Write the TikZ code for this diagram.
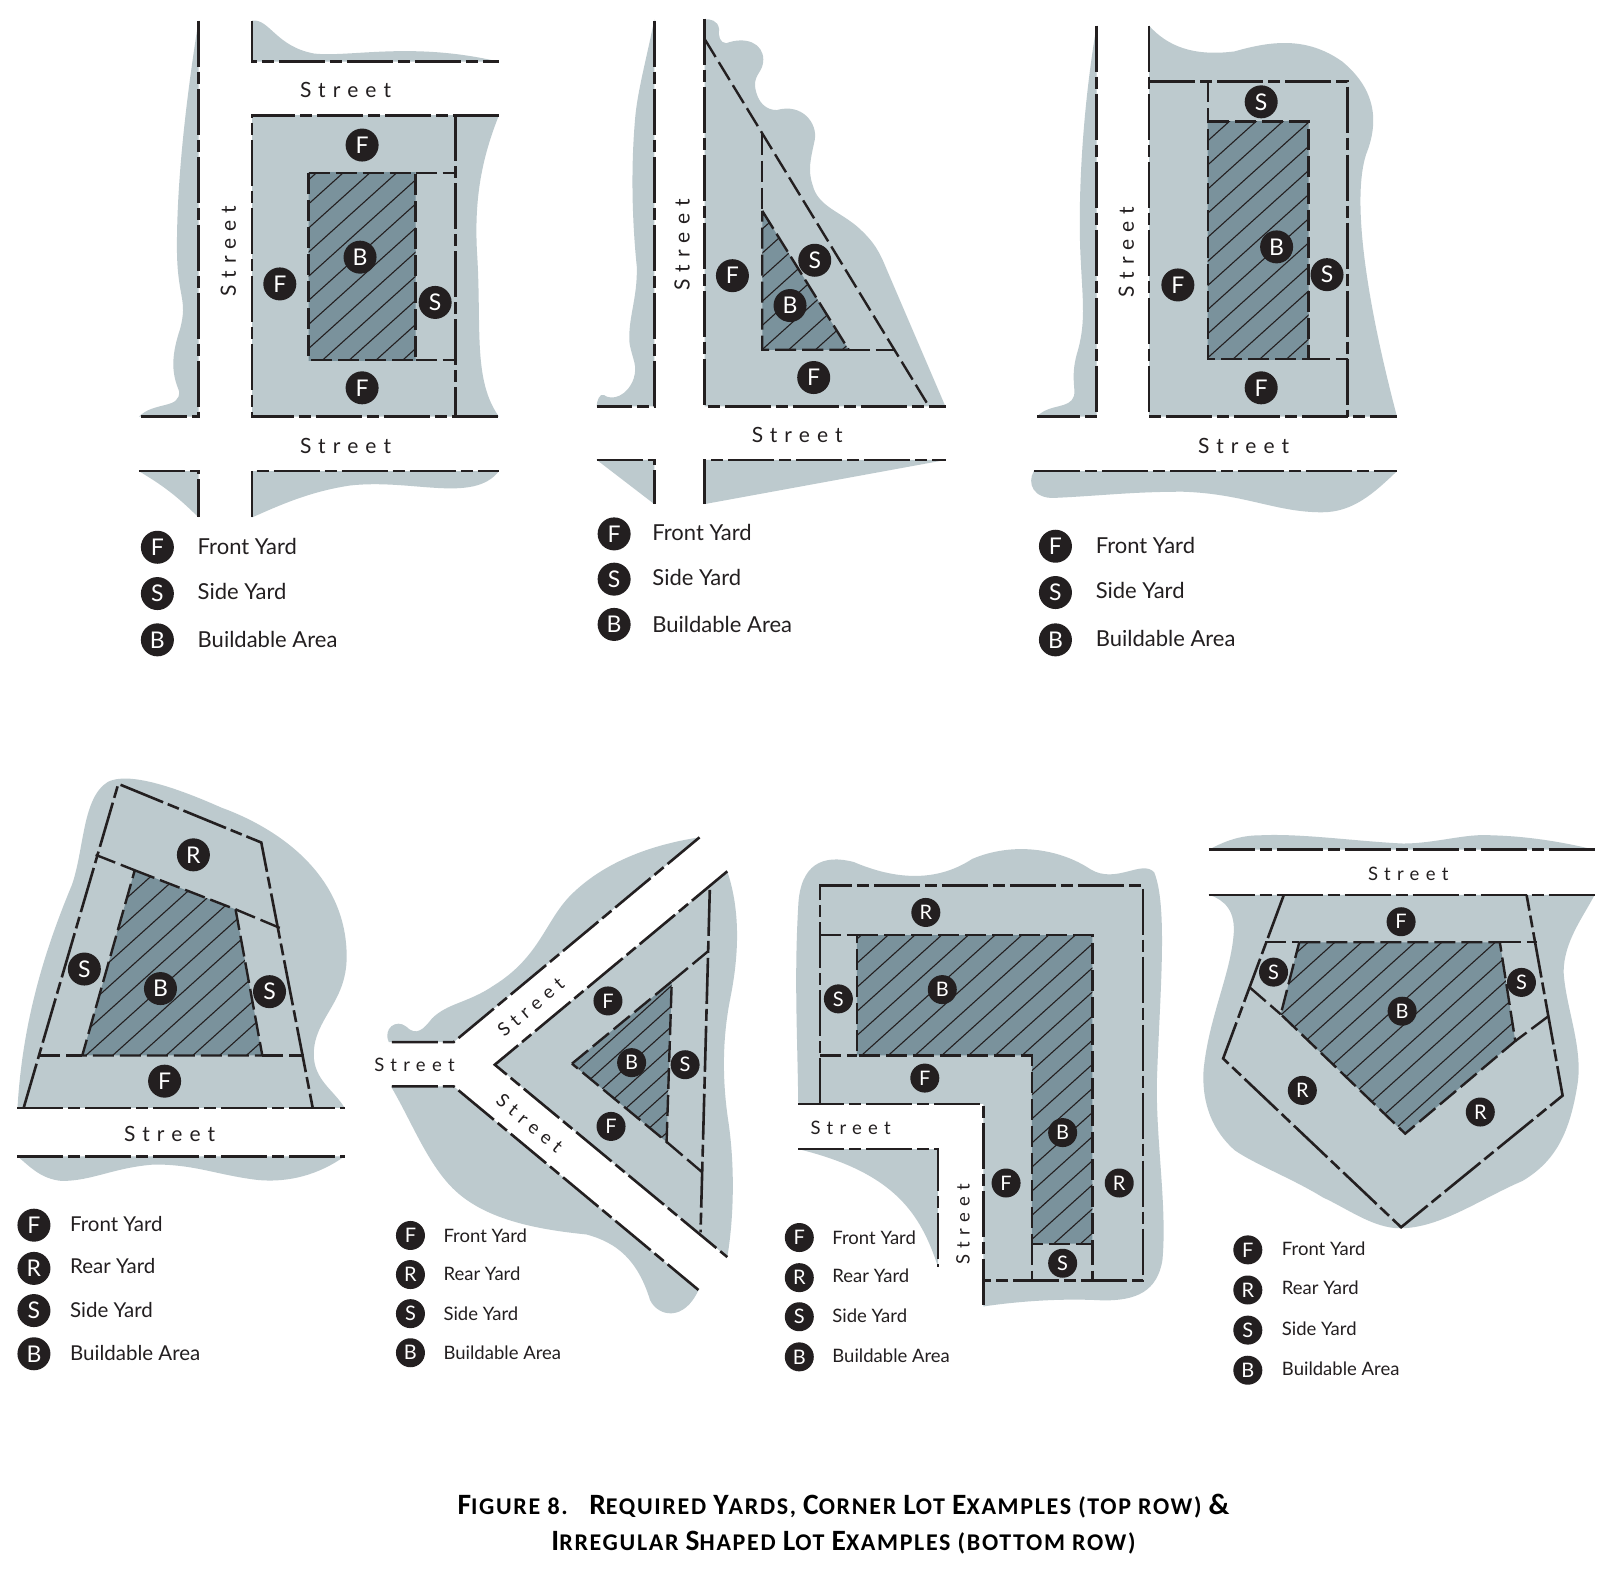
\documentclass[tikz,border=0pt]{standalone}
\usepackage{fontspec}
\setmainfont{Lato}
\newfontfamily\streetfont[LetterSpace=34]{Lato}
\newfontfamily\capfont[LetterSpace=7]{Carlito}
\definecolor{yardgray}{HTML}{BDCACE}
\definecolor{buildgray}{HTML}{7A929C}
\definecolor{inkblack}{HTML}{231F20}
\tikzset{
  yard/.style={fill=yardgray},
  lotline/.style={draw=inkblack, line width=2.6pt, line join=miter, dash pattern=on 46pt off 5pt on 12pt off 5pt},
  setback/.style={draw=inkblack, line width=2.4pt, dash pattern=on 21pt off 6pt},
  badge/.style={circle, fill=inkblack, text=white, minimum size=33pt, inner sep=0pt, font=\fontsize{23}{23}\selectfont},
  smallbadge/.style={badge, minimum size=29pt, font=\fontsize{20}{20}\selectfont},
  legendtext/.style={anchor=west, text=inkblack, inner sep=0pt, font=\fontsize{22}{22}\selectfont},
  smalllegend/.style={legendtext, font=\fontsize{18.5}{19}\selectfont},
  midlegend/.style={legendtext, font=\fontsize{20.5}{21}\selectfont},
  streetlabel/.style={text=inkblack, inner sep=0pt, font=\streetfont\fontsize{21}{21}\selectfont},
  smallstreet/.style={streetlabel, font=\streetfont\fontsize{18.5}{19}\selectfont},
  captionline/.style={inner sep=0pt, font=\capfont\bfseries\fontsize{24}{24}\selectfont},
}
\newcommand{\bigc}[1]{{\fontsize{29.5}{29}\selectfont #1}}
\newcommand{\hatcharea}[2]{%
  \begin{scope}
    \clip #2 -- cycle;
    \fill[buildgray] (0,0) rectangle (1568,1532);
    \foreach \k in {0,...,140} {
      \pgfmathsetmacro{\c}{\k*#1}
      \draw[inkblack, line width=1.1pt] (\c,0) -- (\c-1700,1532);
    }
  \end{scope}
  \path[setback] #2 -- cycle;
}
\begin{document}
\begin{tikzpicture}[x=1.0287pt, y=-1.0287pt]
\useasboundingbox (0,0) rectangle (1568,1532);
\fill[white] (0,0) rectangle (1568,1532);

% top row, left
\fill[yard] (193,20) .. controls (182,90) and (172,170) .. (172,240) .. controls (172,290) and (183,290) .. (175,320) .. controls (165,350) and (168,365) .. (174,380) .. controls (176,398) and (150,390) .. (135,405) -- (193,405) -- cycle;
\fill[yard] (245,20) .. controls (262,18) and (268,45) .. (305,52) .. controls (340,56) and (400,40) .. (485,60) -- (245,60) -- cycle;
\fill[yard] (245,112) -- (485,112) .. controls (470,150) and (460,190) .. (464,250) .. controls (468,320) and (460,370) .. (485,405) -- (245,405) -- cycle;
\fill[yard] (135,458) -- (193,458) -- (193,503) .. controls (170,480) and (155,470) .. (135,458) -- cycle;
\fill[yard] (245,503) -- (245,458) -- (485,458) .. controls (460,490) and (400,465) .. (340,472) .. controls (300,478) and (270,492) .. (245,503) -- cycle;
\hatcharea{26}{(300,168) -- (404,168) -- (404,350) -- (300,350)}
\path[setback] (404,168) -- (443,168);
\path[setback] (404,350) -- (443,350);
\path[lotline] (193,20) -- (193,405) -- (135,405);
\path[lotline] (245,20) -- (245,60) -- (485,60);
\path[lotline] (485,112) -- (245,112) -- (245,405) -- (485,405);
\path[lotline] (443,112) -- (443,405);
\path[lotline] (135,458) -- (193,458) -- (193,503);
\path[lotline] (245,503) -- (245,458) -- (485,458);
\node[streetlabel] (streetaa) at (336,87) {Street};
\node[streetlabel, rotate=90] (streetab) at (222,244) {Street};
\node[streetlabel] (streetac) at (336,434) {Street};
\node[badge] (faa) at (352,141) {F};
\node[badge] (fab) at (272,276) {F};
\node[badge] (fac) at (352,377) {F};
\node[badge] (baa) at (350,250) {B};
\node[badge] (saa) at (423,294) {S};
\node[badge] (legfa) at (153,532) {F};
\node[badge] (legsa) at (153,577) {S};
\node[badge] (legba) at (153,622) {B};
\node[legendtext] (txtfa) at (192,531) {Front Yard};
\node[legendtext] (txtsa) at (192,575) {Side Yard};
\node[legendtext] (txtba) at (192,622) {Buildable Area};

% top row, middle
\fill[yard] (636,19) .. controls (628,60) and (619,90) .. (617,120) .. controls (613,170) and (615,220) .. (619,259) .. controls (620,290) and (610,310) .. (612,334) .. controls (615,350) and (620,355) .. (616,368) .. controls (610,385) and (595,390) .. (587,384) .. controls (583,382) and (580,390) .. (580,395) -- (636,395) -- cycle;
\fill[yard] (685,19) .. controls (690,18) and (698,20) .. (699,28) .. controls (698,35) and (700,42) .. (706,42) .. controls (725,35) and (742,42) .. (742,58) .. controls (742,70) and (733,72) .. (734,84) .. controls (736,100) and (745,107) .. (755,107) .. controls (780,100) and (795,120) .. (792,136) .. controls (788,155) and (785,165) .. (790,180) .. controls (795,200) and (815,205) .. (833,220) .. controls (850,235) and (855,245) .. (862,262) -- (919,395) -- (685,395) -- cycle;
\fill[yard] (580,447) -- (636,447) -- (636,490) -- cycle;
\fill[yard] (685,490) -- (685,447) -- (920,447) -- cycle;
\hatcharea{26}{(741,205) -- (825,340) -- (741,340)}
\path[setback] (741,130) -- (741,205);
\path[setback] (825,340) -- (870,340);
\path[setback] (685,38) -- (903,395);
\path[lotline] (636,20) -- (636,395) -- (580,395);
\path[lotline] (685,18) -- (685,395) -- (920,395);
\path[lotline] (580,447) -- (636,447) -- (636,490);
\path[lotline] (685,490) -- (685,447) -- (920,447);
\node[streetlabel] (streetba) at (775,423) {Street};
\node[streetlabel, rotate=90] (streetbb) at (663,238) {Street};
\node[badge] (fba) at (712,268) {F};
\node[badge] (fbb) at (791,367) {F};
\node[badge] (sba) at (792,253) {S};
\node[badge] (bba) at (768,297) {B};
\node[badge] (legfb) at (597,519) {F};
\node[badge] (legsb) at (597,563) {S};
\node[badge] (legbb) at (597,607) {B};
\node[legendtext] (txtfb) at (634,518) {Front Yard};
\node[legendtext] (txtsb) at (634,561) {Side Yard};
\node[legendtext] (txtbb) at (634,607) {Buildable Area};

% top row, right
\fill[yard] (1066,25) .. controls (1055,90) and (1048,170) .. (1050,240) .. controls (1052,290) and (1056,310) .. (1048,340) .. controls (1040,365) and (1046,378) .. (1044,385) .. controls (1040,398) and (1020,392) .. (1008,405) -- (1066,405) -- cycle;
\fill[yard] (1117,25) .. controls (1135,45) and (1160,55) .. (1200,50) .. controls (1235,40) and (1270,35) .. (1305,60) .. controls (1335,85) and (1342,115) .. (1328,150) .. controls (1315,190) and (1325,280) .. (1358,405) -- (1117,405) -- cycle;
\fill[yard] (1005,458) -- (1358,458) .. controls (1335,480) and (1315,498) .. (1285,498) .. controls (1240,498) and (1210,480) .. (1150,478) .. controls (1100,478) and (1070,482) .. (1025,484) .. controls (1005,485) and (998,470) .. (1005,458) -- cycle;
\hatcharea{26}{(1174,118) -- (1272,118) -- (1272,349) -- (1174,349)}
\path[setback] (1174,79) -- (1174,118);
\path[setback] (1272,349) -- (1310,349);
\path[lotline] (1066,25) -- (1066,405) -- (1008,405);
\path[lotline] (1117,25) -- (1117,405) -- (1358,405);
\path[lotline] (1117,79) -- (1310,79) -- (1310,405);
\path[lotline] (1005,458) -- (1358,458);
\node[streetlabel] (streetca) at (1209,434) {Street};
\node[streetlabel, rotate=90] (streetcb) at (1095,245) {Street};
\node[badge] (sca) at (1226,99) {S};
\node[badge] (scb) at (1290,267) {S};
\node[badge] (bca) at (1241,240) {B};
\node[badge] (fca) at (1145,277) {F};
\node[badge] (fcb) at (1226,377) {F};
\node[badge] (legfc) at (1026,531) {F};
\node[badge] (legsc) at (1026,576) {S};
\node[badge] (legbc) at (1026,622) {B};
\node[legendtext] (txtfc) at (1065,530) {Front Yard};
\node[legendtext] (txtsc) at (1065,574) {Side Yard};
\node[legendtext] (txtbc) at (1065,621) {Buildable Area};

% bottom row, first
\fill[yard] (17,1077) .. controls (22,990) and (45,920) .. (70,860) .. controls (82,825) and (80,775) .. (105,760) .. controls (125,750) and (170,765) .. (215,785) .. controls (270,805) and (337,850) .. (337,930) .. controls (337,975) and (305,990) .. (305,1025) .. controls (305,1050) and (325,1060) .. (335,1077) -- cycle;
\fill[yard] (17,1124) -- (335,1124) .. controls (310,1142) and (280,1150) .. (250,1147) .. controls (210,1142) and (190,1132) .. (150,1132) .. controls (110,1135) and (90,1148) .. (60,1148) .. controls (40,1146) and (30,1135) .. (17,1124) -- cycle;
\hatcharea{26}{(131,846) -- (229,884) -- (255,1026) -- (80,1026)}
\path[setback] (93,831) -- (131,846);
\path[setback] (229,884) -- (272,902);
\path[setback] (38,1026) -- (80,1026);
\path[setback] (255,1026) -- (296,1026);
\path[lotline] (23,1077) -- (115,762) -- (254,819) -- (304,1077);
\path[lotline] (17,1077) -- (335,1077);
\path[lotline] (17,1124) -- (335,1124);
\node[streetlabel] (streetda) at (165,1102) {Street};
\node[badge] (rda) at (188,831) {R};
\node[badge] (sda) at (82,942) {S};
\node[badge] (sdb) at (262,964) {S};
\node[badge] (bda) at (156,961) {B};
\node[badge] (fda) at (160,1051) {F};
\node[badge] (legfd) at (33,1191) {F};
\node[badge] (legrd) at (33,1233) {R};
\node[badge] (legsd) at (33,1274) {S};
\node[badge] (legbd) at (33,1316) {B};
\node[midlegend] (txtfd) at (68,1190) {Front Yard};
\node[midlegend] (txtrd) at (68,1231) {Rear Yard};
\node[midlegend] (txtsd) at (68,1273) {Side Yard};
\node[midlegend] (txtbd) at (68,1315) {Buildable Area};

% bottom row, second
\fill[yard] (378,1013) .. controls (372,1000) and (385,990) .. (395,998) .. controls (405,1008) and (412,1000) .. (420,990) .. controls (435,975) and (455,975) .. (480,958) .. controls (525,930) and (530,895) .. (555,870) .. controls (590,835) and (640,820) .. (680,814) -- (441,1013) -- cycle;
\fill[yard] (481,1035) -- (707,847) .. controls (718,880) and (720,920) .. (710,970) .. controls (702,1010) and (702,1050) .. (708,1090) .. controls (714,1130) and (714,1180) .. (707,1222) -- cycle;
\fill[yard] (380,1056) -- (441,1056) -- (679,1254) .. controls (665,1285) and (640,1280) .. (632,1264) .. controls (620,1225) and (600,1208) .. (570,1200) .. controls (520,1195) and (470,1185) .. (440,1155) .. controls (415,1130) and (400,1090) .. (380,1056) -- cycle;
\hatcharea{22}{(556,1034) -- (653,954) -- (648,1110)}
\path[setback] (653,954) -- (688,925);
\path[setback] (648,1110) -- (682,1139);
\path[lotline] (381,1013) -- (441,1013) -- (680,814);
\path[lotline] (381,1056) -- (441,1056) -- (679,1254);
\path[lotline] (707,847) -- (481,1035) -- (707,1222);
\path[lotline] (690,865) -- (681,1198);
\node[smallstreet] (streetea) at (403,1035) {Street};
\node[smallstreet, rotate=40] (streeteb) at (516,979) {Street};
\node[smallstreet, rotate=-40] (streetec) at (515,1092) {Street};
\node[smallbadge] (fea) at (591,973) {F};
\node[smallbadge] (feb) at (594,1095) {F};
\node[smallbadge] (bea) at (614,1033) {B};
\node[smallbadge] (sea) at (666,1035) {S};
\node[smallbadge] (legfe) at (399,1201) {F};
\node[smallbadge] (legre) at (399,1239) {R};
\node[smallbadge] (legse) at (399,1277) {S};
\node[smallbadge] (legbe) at (399,1315) {B};
\node[smalllegend] (txtfe) at (431,1201) {Front Yard};
\node[smalllegend] (txtre) at (431,1238) {Rear Yard};
\node[smalllegend] (txtse) at (431,1277) {Side Yard};
\node[smalllegend] (txtbe) at (431,1315) {Buildable Area};

% bottom row, third
\fill[yard] (776,1073) .. controls (775,1000) and (772,950) .. (776,880) .. controls (778,840) and (800,830) .. (830,838) .. controls (870,855) and (910,858) .. (945,835) .. controls (985,818) and (1030,825) .. (1060,845) .. controls (1085,860) and (1110,835) .. (1122,848) .. controls (1135,880) and (1128,960) .. (1125,1040) .. controls (1122,1100) and (1135,1170) .. (1130,1225) .. controls (1125,1255) and (1105,1265) .. (1070,1264) .. controls (1030,1262) and (990,1265) .. (956,1270) -- (956,1073) -- cycle;
\fill[yard] (776,1117) -- (912,1117) -- (912,1232) .. controls (895,1180) and (870,1140) .. (776,1117) -- cycle;
\hatcharea{26}{(833,909) -- (1062,909) -- (1062,1209) -- (1003,1209) -- (1003,1026) -- (833,1026)}
\path[setback] (797,909) -- (833,909);
\path[setback] (797,1026) -- (833,1026);
\path[setback] (1003,1209) -- (1003,1245);
\path[setback] (1062,1209) -- (1062,1245);
\path[lotline] (797,1073) -- (797,861) -- (1111,861) -- (1111,1245) -- (956,1245);
\path[lotline] (776,1073) -- (956,1073) -- (956,1270);
\path[lotline] (776,1117) -- (912,1117) -- (912,1232);
\node[smallstreet] (streetfa) at (827,1096) {Street};
\node[smallstreet, rotate=90] (streetfb) at (936,1190) {Street};
\node[smallbadge] (rfa) at (900,887) {R};
\node[smallbadge] (rfb) at (1088,1150) {R};
\node[smallbadge] (sfa) at (815,971) {S};
\node[smallbadge] (sfb) at (1033,1228) {S};
\node[smallbadge] (bfa) at (916,962) {B};
\node[smallbadge] (bfb) at (1033,1101) {B};
\node[smallbadge] (ffa) at (899,1048) {F};
\node[smallbadge] (ffb) at (978,1150) {F};
\node[smallbadge] (legff) at (777,1203) {F};
\node[smallbadge] (legrf) at (777,1242) {R};
\node[smallbadge] (legsf) at (777,1280) {S};
\node[smallbadge] (legbf) at (777,1319) {B};
\node[smalllegend] (txtff) at (809,1203) {Front Yard};
\node[smalllegend] (txtrf) at (809,1240) {Rear Yard};
\node[smalllegend] (txtsf) at (809,1279) {Side Yard};
\node[smalllegend] (txtbf) at (809,1318) {Buildable Area};

% bottom row, fourth
\fill[yard] (1175,826) .. controls (1190,818) and (1205,812) .. (1225,812) .. controls (1265,810) and (1320,818) .. (1364,820) .. controls (1395,820) and (1425,810) .. (1450,812) .. controls (1490,813) and (1525,820) .. (1550,826) -- cycle;
\fill[yard] (1176,870) -- (1550,870) .. controls (1540,890) and (1520,915) .. (1520,945) .. controls (1522,980) and (1540,1020) .. (1533,1057) .. controls (1525,1105) and (1510,1130) .. (1480,1148) .. controls (1440,1165) and (1400,1194) .. (1361,1194) .. controls (1335,1194) and (1310,1175) .. (1286,1164) .. controls (1255,1145) and (1220,1132) .. (1200,1118) .. controls (1180,1100) and (1168,1075) .. (1170,1040) .. controls (1175,990) and (1195,950) .. (1199,911) .. controls (1202,885) and (1190,875) .. (1176,870) -- cycle;
\hatcharea{26}{(1263,916) -- (1458,916) -- (1473,1012) -- (1366,1102) -- (1245,986)}
\path[setback] (1230,916) -- (1263,916);
\path[setback] (1458,916) -- (1494,916);
\path[setback] (1215,960) -- (1245,986);
\path[setback] (1505,988) -- (1473,1012);
\path[lotline] (1175,826) -- (1550,826);
\path[lotline] (1175,870) -- (1550,870);
\path[lotline] (1248,870) -- (1189,1029) -- (1362,1193) -- (1519,1065) -- (1484,870);
\node[smallstreet] (streetga) at (1369,849) {Street};
\node[smallbadge] (fga) at (1362,896) {F};
\node[smallbadge] (sga) at (1238,945) {S};
\node[smallbadge] (sgb) at (1479,955) {S};
\node[smallbadge] (bga) at (1363,983) {B};
\node[smallbadge] (rga) at (1266,1060) {R};
\node[smallbadge] (rgb) at (1439,1081) {R};
\node[smallbadge] (legfg) at (1213,1215) {F};
\node[smallbadge] (legrg) at (1213,1254) {R};
\node[smallbadge] (legsg) at (1213,1293) {S};
\node[smallbadge] (legbg) at (1213,1332) {B};
\node[smalllegend] (txtfg) at (1246,1214) {Front Yard};
\node[smalllegend] (txtrg) at (1246,1252) {Rear Yard};
\node[smalllegend] (txtsg) at (1246,1292) {Side Yard};
\node[smalllegend] (txtbg) at (1246,1331) {Buildable Area};

\node[captionline] (captiona) at (820,1464) {\bigc{F}IGURE 8.\hspace{0.9em}\bigc{R}EQUIRED \bigc{Y}ARDS, \bigc{C}ORNER \bigc{L}OT \bigc{E}XAMPLES (TOP ROW) \bigc{\&}};
\node[captionline] (captionb) at (820,1500) {\bigc{I}RREGULAR \bigc{S}HAPED \bigc{L}OT \bigc{E}XAMPLES (BOTTOM ROW)};
\end{tikzpicture}
\end{document}
